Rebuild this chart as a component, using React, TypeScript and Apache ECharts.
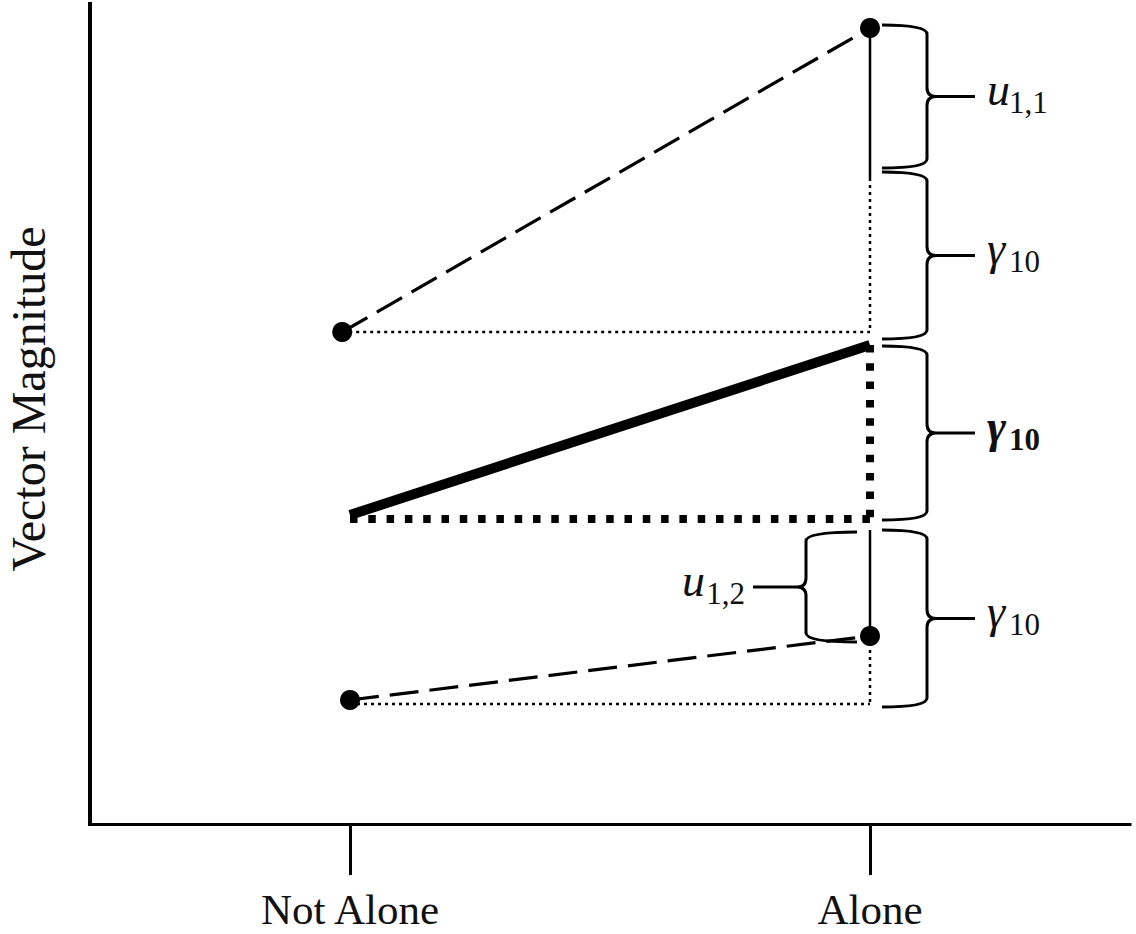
import React, { useEffect, useRef } from 'react';
import * as echarts from 'echarts';

// ---- axis categories (positions on a value axis) ----
const xCategories = ['Not Alone', 'Alone'];
const xTickValues = [1, 2];
const X_ALONE = 2;
const yTitle = 'Vector Magnitude';

// ---- lines (x, y) in axis units ----
const upperDashed = [[0.985, 4.92], [2, 7.96]];
const upperSolid = [[2, 7.96], [2, 6.46]];
const upperDottedV = [[2, 6.46], [2, 4.92]];
const upperDottedH = [[0.985, 4.92], [2, 4.92]];
const meanSolid = [[1, 3.09], [2, 4.79]];
const meanDottedH = [[1, 3.05], [2, 3.05]];
const meanDottedV = [[2, 4.79], [2, 3.05]];
const lowerDashed = [[1, 1.24], [2, 1.88]];
const lowerSolid = [[2, 2.94], [2, 1.88]];
const lowerDottedV = [[2, 1.88], [2, 1.2]];
const lowerDottedH = [[1, 1.2], [2, 1.2]];
const points = [[0.985, 4.92], [2, 7.96], [1, 1.24], [2, 1.88]];

// ---- braces ----
const braceTop = [7.99, 6.52, 4.78, 2.94, 2.92];
const braceBottom = [6.56, 4.85, 3.04, 1.17, 1.82];
const braceSide = [1, 1, 1, 1, -1];
const braceSymbol = ['u', 'γ', 'γ', 'γ', 'u'];
const braceSub = ['1,1', '10', '10', '10', '1,2'];
const braceBold = [false, false, true, false, false];

const SERIF = 'Liberation Serif';
const MATH = 'Liberation Serif';

function lineSeries(data: number[][], width: number, type: any) {
  return {
    type: 'line',
    data,
    showSymbol: false,
    symbol: 'none',
    silent: true,
    z: 3,
    lineStyle: { color: '#000', width, type, cap: 'butt', opacity: 1 },
  };
}

export default function App() {
  const ref = useRef<HTMLDivElement>(null);
  useEffect(() => {
    document.body.style.margin = '0';
    const chart = echarts.init(ref.current!, undefined, { renderer: 'svg' });
    const thinDot = [3, 4];
    const thickDot = [7.5, 10.8];
    const dash = [29, 11];
    const option: any = {
      animation: false,
      grid: { left: 90, right: 6, top: 4, bottom: 110 },
      xAxis: {
        type: 'value',
        min: 0.5,
        max: 2.5,
        splitLine: { show: false },
        axisLine: { onZero: false, lineStyle: { color: '#000', width: 3, cap: 'square' } },
        axisTick: { show: true, customValues: xTickValues, length: 51, lineStyle: { color: '#000', width: 3 } },
        axisLabel: {
          customValues: xTickValues,
          formatter: (v: number) => xCategories[xTickValues.indexOf(v)] ?? '',
          margin: 64,
          fontFamily: SERIF,
          fontSize: 43,
          color: '#111',
        },
      },
      yAxis: {
        type: 'value',
        min: 0,
        max: 8.2,
        splitLine: { show: false },
        axisLine: { show: true, onZero: false, lineStyle: { color: '#000', width: 4, cap: 'square' } },
        axisTick: { show: false },
        axisLabel: { show: false },
      },
      graphic: [
        {
          type: 'text',
          x: 28,
          y: 399,
          rotation: Math.PI / 2,
          style: {
            text: yTitle,
            fontFamily: SERIF,
            fontSize: 48,
            fill: '#111',
            align: 'center',
            verticalAlign: 'middle',
          },
        },
      ],
      series: [
        lineSeries(upperDashed, 3.2, dash),
        lineSeries(upperSolid, 2.5, 'solid'),
        lineSeries(upperDottedV, 2.5, thinDot),
        lineSeries(upperDottedH, 2.5, thinDot),
        lineSeries(meanSolid, 10, 'solid'),
        lineSeries(meanDottedH, 8, thickDot),
        lineSeries(meanDottedV, 8, thickDot),
        lineSeries(lowerDashed, 3.2, dash),
        lineSeries(lowerSolid, 2.5, 'solid'),
        lineSeries(lowerDottedV, 2.5, thinDot),
        lineSeries(lowerDottedH, 2.5, thinDot),
        {
          type: 'scatter',
          data: points,
          symbol: 'circle',
          symbolSize: 20,
          itemStyle: { color: '#000', opacity: 1 },
          z: 5,
          silent: true,
        },
        {
          type: 'custom',
          silent: true,
          clip: false,
          z: 4,
          data: braceTop.map((t, i) => [t, braceBottom[i], braceSide[i]]),
          encode: { y: [0, 1] },
          renderItem: (params: any, api: any) => {
            const i = params.dataIndex;
            const p1 = api.coord([X_ALONE, api.value(0)]);
            const p2 = api.coord([X_ALONE, api.value(1)]);
            const s = api.value(2);
            const x0 = p1[0];
            const yt = p1[1];
            const yb = p2[1];
            const ym = (yt + yb) / 2;
            const a = x0 + (s > 0 ? 12 : -13);
            const b = x0 + (s > 0 ? 57 : -64);
            const c = x0 + (s > 0 ? 105 : -117);
            const r = 9;
            const d =
              `M${a},${yt} Q${b},${yt} ${b},${yt + r} L${b},${ym - r} ` +
              `Q${b},${ym} ${b + s * r},${ym} L${c},${ym} ` +
              `M${b + s * r},${ym} Q${b},${ym} ${b},${ym + r} ` +
              `L${b},${yb - r} Q${b},${yb} ${a},${yb}`;
            const mainSize = 46;
            const subSize = 31;
            const base = ym + 9;
            const weight = braceBold[i] ? 'bold' : 'normal';
            const mainX = s > 0 ? c + 12 : c - 71;
            const subX = s > 0 ? mainX + 22 : c - 8;
            return {
              type: 'group',
              children: [
                {
                  type: 'path',
                  shape: { pathData: d },
                  style: { stroke: '#000', lineWidth: 3, fill: 'none' },
                },
                {
                  type: 'text',
                  x: mainX,
                  y: base - 0.34 * mainSize,
                  style: {
                    text: braceSymbol[i],
                    fontFamily: MATH,
                    fontStyle: 'italic',
                    fontWeight: weight,
                    fontSize: mainSize,
                    fill: '#111',
                    align: 'left',
                    verticalAlign: 'middle',
                  },
                },
                {
                  type: 'text',
                  x: subX,
                  y: base + 8 - 0.34 * subSize,
                  style: {
                    text: braceSub[i],
                    fontFamily: MATH,
                    fontWeight: weight,
                    fontSize: subSize,
                    fill: '#111',
                    align: s > 0 ? 'left' : 'right',
                    verticalAlign: 'middle',
                  },
                },
              ],
            };
          },
        },
      ],
    };
    chart.setOption(option);
    return () => chart.dispose();
  }, []);
  return <div ref={ref} style={{ width: 1136, height: 934 }} />;
}
